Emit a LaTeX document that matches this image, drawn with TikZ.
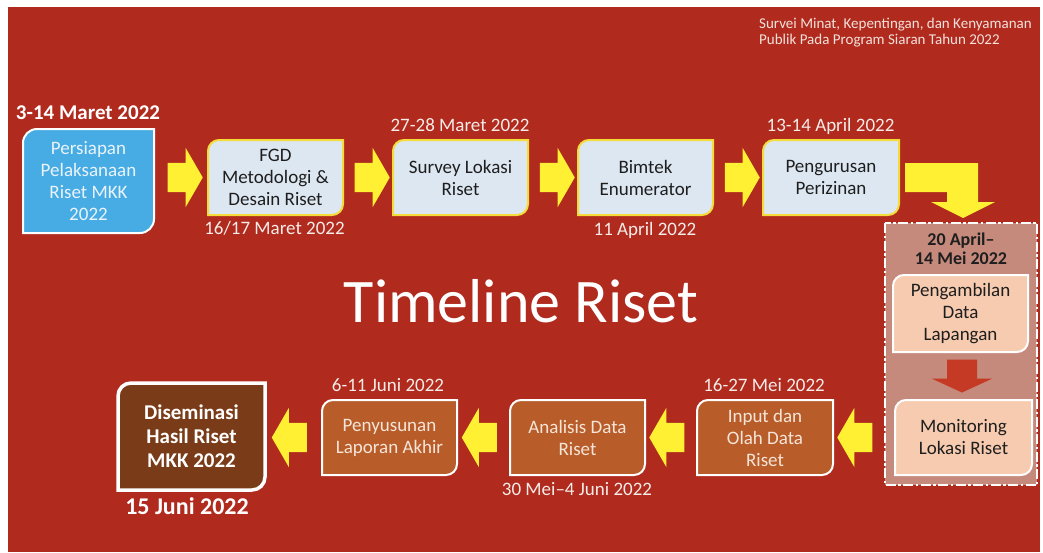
\documentclass[tikz,border=0pt]{standalone}
\usepackage{fontspec}
\setmainfont{Carlito}
\usetikzlibrary{shapes.arrows,calc}
\pgfdeclarelayer{bg}
\pgfdeclarelayer{boxes}
\pgfsetlayers{bg,boxes,main}
\definecolor{bgred}{HTML}{B02A1E}
\definecolor{arrowyel}{HTML}{FFF033}
\definecolor{blueone}{HTML}{48ACE4}
\definecolor{paleblue}{HTML}{DDE7F2}
\definecolor{ybord}{HTML}{F4DD3A}
\definecolor{grpfill}{HTML}{C68A7D}
\definecolor{peach}{HTML}{F7CBB0}
\definecolor{darkarrow}{HTML}{C53A25}
\definecolor{orangebox}{HTML}{B85D2A}
\definecolor{brownbox}{HTML}{7A3C18}
\definecolor{lighttxt}{HTML}{F6E5D8}
\definecolor{bluetxt}{HTML}{EAF3FA}
\definecolor{darktxt}{HTML}{1E1E1E}
\definecolor{datecol}{HTML}{F6ECE8}
\definecolor{headcol}{HTML}{F3E2DC}
% box outline with rounded top-left and bottom-right corners
\newcommand\diagshape[3]{\path[#2] (#1.west) [rounded corners=#3] |- (#1.north) [sharp corners] -| (#1.east) [rounded corners=#3] |- (#1.south) [sharp corners] -| (#1.west) -- cycle;}
\begin{document}
\begin{tikzpicture}[x=1pt,y=-1pt,
  boxtxt/.style={align=center, inner sep=0pt, outer sep=0pt, font=\fontsize{19}{22}\selectfont},
  datelbl/.style={inner sep=0pt, anchor=base, font=\fontsize{19}{22}\selectfont, text=datecol},
  yarr/.style={single arrow, fill=arrowyel, inner xsep=0pt, inner ysep=14.5pt, outer sep=0pt,
    single arrow head extend=15pt, single arrow tip angle=120, minimum height=35pt},
  larr/.style={yarr, shape border rotate=180},
  topshape/.style={fill=paleblue, draw=ybord, line width=2pt},
  botshape/.style={fill=orangebox, draw=white, line width=2pt},
  grpshape/.style={fill=peach, draw=white, line width=2pt}
]
\useasboundingbox (0,0) rectangle (1043,552);
\begin{pgfonlayer}{bg}
  \fill[white] (0,0) rectangle (1043,552);
  \fill[bgred] (8,7) rectangle (1040,552);
\end{pgfonlayer}

% header
\node[anchor=base west, inner sep=0pt, font=\fontsize{15}{17}\selectfont, text=headcol] (hdra) at (759,28) {Survei Minat, Kepentingan, dan Kenyamanan};
\node[anchor=base west, inner sep=0pt, font=\fontsize{15}{17}\selectfont, text=headcol] (hdrb) at (759,44) {Publik Pada Program Siaran Tahun 2022};

% title
\node[anchor=base, inner sep=0pt, font=\fontsize{62}{70}\selectfont, text=white] (title) at (521,322) {Timeline Riset};

% top row
\node[boxtxt, text=bluetxt, minimum width=131, minimum height=104] (b1) at (88.5,181) {Persiapan\\Pelaksanaan\\Riset MKK\\2022};
\node[boxtxt, text=darktxt, minimum width=135, minimum height=75] (b2) at (275.5,177.5) {FGD\\Metodologi \&\\Desain Riset};
\node[boxtxt, text=darktxt, minimum width=135, minimum height=75] (b3) at (460.5,177.5) {Survey Lokasi\\Riset};
\node[boxtxt, text=darktxt, minimum width=135, minimum height=75] (b4) at (645.5,177.5) {Bimtek\\Enumerator};
\node[boxtxt, text=darktxt, minimum width=136, minimum height=75] (b5) at (831,177.5) {Pengurusan\\Perizinan};

\node[datelbl, text=white, font=\bfseries\fontsize{21}{24}\selectfont] (d1) at (88,119) {3-14 Maret 2022};
\node[datelbl] (d2) at (274.5,234) {16/17 Maret 2022};
\node[datelbl] (d3) at (460,131.5) {27-28 Maret 2022};
\node[datelbl] (d4) at (645,235) {11 April 2022};
\node[datelbl] (d5) at (830.5,131.5) {13-14 April 2022};

\node[yarr] (a1) at ($(b1.east|-b2.west)!0.5!(b2.west)$) {};
\node[yarr] (a2) at ($(b2.east)!0.5!(b3.west)$) {};
\node[yarr] (a3) at ($(b3.east)!0.5!(b4.west)$) {};
\node[yarr] (a4) at ($(b4.east)!0.5!(b5.west)$) {};

% group
\node[inner sep=0pt, outer sep=0pt, minimum width=152, minimum height=262] (g) at (961,354) {};
\node[anchor=base, inner sep=0pt, font=\bfseries\fontsize{18}{19}\selectfont, text=darktxt] (gta) at (961,245) {20 April–};
\node[anchor=base, inner sep=0pt, font=\bfseries\fontsize{18}{19}\selectfont, text=darktxt] (gtb) at (961,264) {14 Mei 2022};
\node[boxtxt, text=darktxt, minimum width=135, minimum height=77] (g1) at (960.5,313.5) {Pengambilan\\Data\\Lapangan};
\node[boxtxt, text=darktxt, minimum width=137, minimum height=75] (g2) at (963.5,437.5) {Monitoring\\Lokasi Riset};
\coordinate (ra) at ($(g1.south)!0.5!(g2.north)$);
\fill[darkarrow] ($(ra)+(-15,-16.5)$) -- ($(ra)+(15,-16.5)$) -- ($(ra)+(15,2.5)$) -- ($(ra)+(30.5,2.5)$)
  -- ($(ra)+(0,16.5)$) -- ($(ra)+(-30.5,2.5)$) -- ($(ra)+(-15,2.5)$) -- cycle;

% bent arrow from Pengurusan to the group
\fill[arrowyel] ($(b5.east)+(6,-14.5)$) -- (978,163) -- (978,202) -- (995,202) -- (963,218)
  -- (931,202) -- (947,202) -- (947,192) -- ($(b5.east)+(6,14.5)$) -- cycle;

% bottom row
\node[boxtxt, text=lighttxt, minimum width=136, minimum height=75] (c4) at (765,437.5) {Input dan\\Olah Data\\Riset};
\node[boxtxt, text=lighttxt, minimum width=135, minimum height=75] (c3) at (577.5,437.5) {Analisis Data\\Riset};
\node[boxtxt, text=lighttxt, minimum width=135, minimum height=75] (c2) at (389.5,437.5) {Penyusunan\\Laporan Akhir};
\node[boxtxt, text=white, font=\bfseries\fontsize{21}{24}\selectfont, minimum width=147, minimum height=107] (c1) at (191.5,436.5) {Diseminasi\\Hasil Riset\\MKK 2022};

\node[datelbl] (e4) at (764,391) {16-27 Mei 2022};
\node[datelbl] (e3) at (577,495.5) {30 Mei–4 Juni 2022};
\node[datelbl] (e2) at (388,391) {6-11 Juni 2022};
\node[datelbl, text=white, font=\bfseries\fontsize{24}{28}\selectfont] (e1) at (187,514) {15 Juni 2022};

\node[larr] (l1) at ($(c4.east)!0.5!(g.west|-c4.east)$) {};
\node[larr] (l2) at ($(c3.east)!0.5!(c4.west)$) {};
\node[larr] (l3) at ($(c2.east)!0.5!(c3.west)$) {};
\node[larr] (l4) at ($(c1.east|-c2.west)!0.5!(c2.west)$) {};

% shapes behind the texts
\begin{pgfonlayer}{boxes}
  \path[fill=grpfill, draw=white, line width=2pt, dash pattern=on 10pt off 2.5pt on 2.5pt off 2.5pt]
    (g.north west) rectangle (g.south east);
  \diagshape{b1}{fill=blueone, draw=white, line width=2pt}{14}
  \diagshape{b2}{topshape}{11}
  \diagshape{b3}{topshape}{11}
  \diagshape{b4}{topshape}{11}
  \diagshape{b5}{topshape}{11}
  \diagshape{g1}{grpshape}{11}
  \diagshape{g2}{grpshape}{11}
  \diagshape{c4}{botshape}{11}
  \diagshape{c3}{botshape}{11}
  \diagshape{c2}{botshape}{11}
  \diagshape{c1}{fill=brownbox, draw=white, line width=3.5pt}{13}
\end{pgfonlayer}
\end{tikzpicture}
\end{document}
